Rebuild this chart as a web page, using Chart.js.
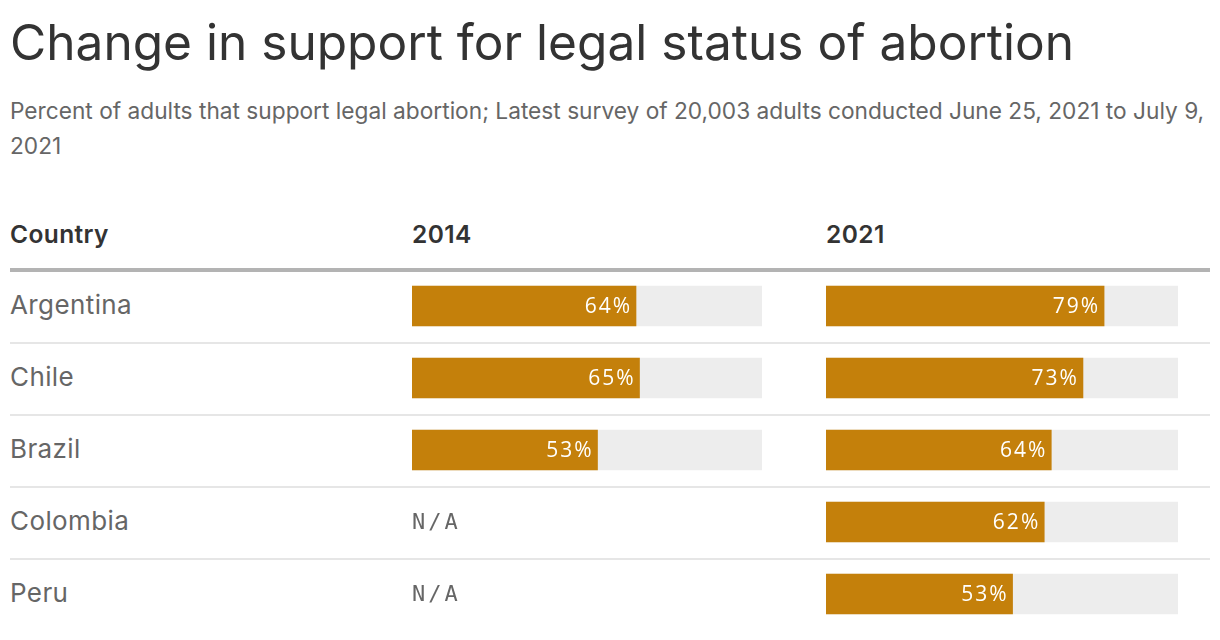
<!DOCTYPE html>
<html>
<head>
<meta charset="utf-8">
<script src="https://cdn.jsdelivr.net/npm/chart.js@4"></script>
<style>
  body { margin: 0; background: #fff; font-family: Inter, "Noto Sans", sans-serif; }
  #page { position: relative; width: 1220px; height: 640px; overflow: hidden; }
  .abs { position: absolute; white-space: nowrap; }
  #title { left: 10px; top: 12px; font-size: 49.6px; color: #333; letter-spacing: 0px; }
  .sub { left: 10px; font-size: 22.7px; color: #666; letter-spacing: 0px; }
  .head { top: 219px; font-size: 24.5px; font-weight: 600; color: #333; letter-spacing: 0.4px; }
  .country { left: 10px; font-size: 26px; color: #666; line-height: 30px; letter-spacing: 0.4px; }
  .rule { left: 10px; width: 1200px; }
  .col { position: absolute; top: 270px; height: 360px; }
</style>
</head>
<body>
<div id="page">
  <div id="title" class="abs">Change in support for legal status of abortion</div>
  <div class="abs sub" style="top:97px">Percent of adults that support legal abortion; Latest survey of 20,003 adults conducted June 25, 2021 to July 9,</div>
  <div class="abs sub" style="top:132px">2021</div>
  <div class="abs head" style="left:10px">Country</div>
  <div class="abs head" style="left:412px">2014</div>
  <div class="abs head" style="left:826px">2021</div>
  <div class="abs rule" style="top:268px;height:4px;background:#b3b3b3"></div>
  <div class="col" style="left:412px;width:350px"><canvas id="chart2014"></canvas></div>
  <div class="col" style="left:826px;width:352px"><canvas id="chart2021"></canvas></div>
</div>
<script>
const countries = ["Argentina", "Chile", "Brazil", "Colombia", "Peru"];
const values2014 = [64, 65, 53, null, null];
const values2021 = [79, 73, 64, 62, 53];
const BAR_COLOR = "#c4800b";
const TRACK_COLOR = "#ededed";

// country names and row separators, one per row
const page = document.getElementById("page");
countries.forEach((name, i) => {
  const label = document.createElement("div");
  label.className = "abs country";
  label.style.top = (290 + i * 72) + "px";
  label.textContent = name;
  page.appendChild(label);
  if (i < countries.length - 1) {
    const line = document.createElement("div");
    line.className = "abs rule";
    line.style.top = (342 + i * 72) + "px";
    line.style.height = "2px";
    line.style.background = "#e6e6e6";
    page.appendChild(line);
  }
});

const barLabels = {
  id: "barLabels",
  afterDatasetsDraw(chart) {
    const ctx = chart.ctx;
    const meta = chart.getDatasetMeta(1);
    const data = chart.data.datasets[1].data;
    ctx.save();
    ctx.textBaseline = "middle";
    meta.data.forEach((bar, i) => {
      const v = data[i];
      if (v === null) {
        ctx.fillStyle = "#666";
        ctx.font = "22px 'DejaVu Sans Mono', monospace";
        ctx.letterSpacing = "3px";
        ctx.textAlign = "left";
        ctx.fillText("N/A", chart.scales.x.getPixelForValue(0), bar.y + 1);
      } else {
        ctx.fillStyle = "#fff";
        ctx.font = "21px 'Open Sans', sans-serif";
        ctx.letterSpacing = "2px";
        ctx.textAlign = "right";
        ctx.fillText(v + "%", bar.x - 4, bar.y + 1);
      }
    });
    ctx.restore();
  }
};

function buildChart(canvasId, values) {
  return new Chart(document.getElementById(canvasId), {
    type: "bar",
    data: {
      labels: countries,
      datasets: [
        {
          data: values.map((v) => (v === null ? null : 100)),
          backgroundColor: TRACK_COLOR,
          barThickness: 40,
          grouped: false,
          order: 2
        },
        {
          data: values,
          backgroundColor: BAR_COLOR,
          barThickness: 40,
          grouped: false,
          order: 1
        }
      ]
    },
    options: {
      indexAxis: "y",
      animation: false,
      responsive: true,
      maintainAspectRatio: false,
      layout: {padding: 0},
      plugins: {legend: {display: false}, tooltip: {enabled: false}},
      scales: {
        x: {min: 0, max: 100, display: false},
        y: {display: false, offset: true}
      }
    },
    plugins: [barLabels]
  });
}

buildChart("chart2014", values2014);
buildChart("chart2021", values2021);
</script>
</body>
</html>
